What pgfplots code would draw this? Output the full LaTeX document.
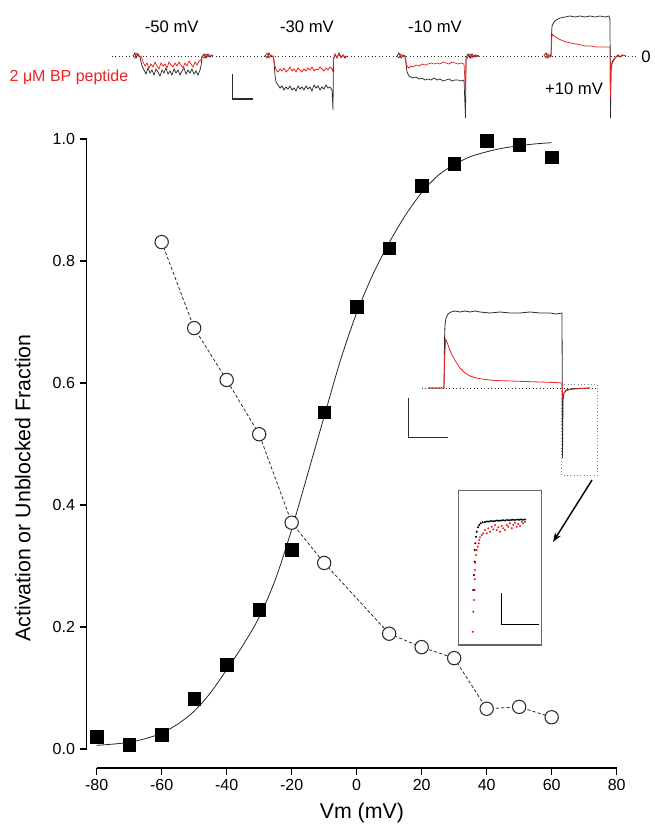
\documentclass[border=0pt]{standalone}
\usepackage{fontspec}
\setmainfont{Liberation Sans}
\usepackage{pgfplots}
\pgfplotsset{compat=1.18}
\usetikzlibrary{arrows.meta}
\definecolor{tr}{RGB}{235,35,35}
\definecolor{tk}{RGB}{45,45,45}
\begin{document}
\begin{tikzpicture}
\path[use as bounding box] (0,0) rectangle (490.5pt,618pt);
% ---------------- main axis ----------------
\begin{axis}[
  at={(72.5pt,56.25pt)}, anchor=south west,
  scale only axis, width=390pt, height=457.5pt,
  xmin=-80, xmax=80, ymin=0, ymax=1.0,
  axis x line*=bottom, axis y line*=left,
  axis x line shift=14.25pt, axis y line shift=7.5pt,
  axis line style={-, line width=0.9pt, black},
  xtick={-80,-60,...,80}, ytick={0,0.2,...,1.0},
  tick align=outside, major tick length=5.25pt,
  tick style={line width=0.9pt, black},
  /pgf/number format/assume math mode=true,
  ticklabel style={font=\fontsize{12}{14}\selectfont},
  yticklabel style={/pgf/number format/.cd, fixed, fixed zerofill, precision=1},
  xlabel={Vm (mV)}, ylabel={Activation or Unblocked Fraction},
  label style={font=\fontsize{16}{18}\selectfont},
  xlabel style={at={(axis description cs:0.51,-0.105)}, anchor=center},
  ylabel style={at={(axis description cs:-0.142,0.428)}, anchor=center, rotate=0},
  clip=false,
]
% Boltzmann fit
\addplot[black!85, line width=0.6pt, smooth] coordinates {
(-80,0.006) (-75,0.008) (-70,0.011) (-65,0.017) (-60,0.026) (-55,0.041)
(-50,0.062) (-45,0.092) (-40,0.130) (-35,0.170) (-30,0.216) (-25,0.278)
(-20,0.360) (-15,0.452) (-10,0.545) (-5,0.637) (0,0.715) (5,0.778)
(10,0.830) (15,0.875) (20,0.912) (25,0.940) (30,0.958) (35,0.971)
(40,0.979) (45,0.985) (50,0.989) (55,0.992) (60,0.994)};
% unblocked fraction (open circles, dashed)
\addplot[tk, line width=0.6pt, dash pattern=on 2.4pt off 1.6pt,
  mark=*, mark size=5pt, mark options={solid, fill=white, draw=tk, line width=0.8pt}]
coordinates {
(-60,0.831) (-50,0.690) (-40,0.605) (-30,0.516) (-20,0.371) (-10,0.305)
(10,0.189) (20,0.167) (30,0.149) (40,0.066) (50,0.069) (60,0.052)};
% activation (filled squares)
\addplot[only marks, mark=square*, mark size=4.75pt, mark options={fill=black, draw=black}]
coordinates {
(-80,0.020) (-70,0.007) (-60,0.023) (-50,0.082) (-40,0.138) (-30,0.228)
(-20,0.327) (-10,0.552) (0,0.725) (10,0.821) (20,0.923) (30,0.959)
(40,0.997) (50,0.990) (60,0.970)};
\end{axis}
% ---------------- overlay in pixel coordinates ----------------
\begin{axis}[
  at={(0pt,0pt)}, anchor=south west,
  scale only axis, width=490.5pt, height=618pt,
  xmin=0, xmax=654, ymin=0, ymax=824, y dir=reverse,
  hide axis, clip=false,
]
% top panel baseline
\addplot[tk, line width=0.6pt, dotted] coordinates {(111.7,56) (635.7,56)};
% -50 mV
\addplot[tk, line width=0.55pt] coordinates {
(133,56) (135,53) (136,58) (138,54) (140,57) (142,66) (144,70) (146,74) (148,68) (150,73)
(152,70) (154,75) (156,69) (158,72) (160,76) (162,70) (164,73) (166,68) (168,74) (170,71)
(172,75) (174,69) (176,73) (178,70) (180,75) (182,71) (184,68) (186,74) (188,70) (190,73)
(192,69) (194,74) (196,71) (198,75) (200,70) (201,66) (202,57) (204,54) (206,58) (208,54)
(210,57) (212,55) (213,56)};
\addplot[tr, line width=0.55pt] coordinates {
(133,55) (135,58) (137,53) (139,57) (141,56) (143,62) (145,66) (147,63) (149,68) (151,64)
(153,67) (155,62) (157,66) (159,69) (161,63) (163,66) (165,64) (167,68) (169,62) (171,65)
(173,67) (175,63) (177,66) (179,62) (181,65) (183,68) (185,63) (187,66) (189,61) (191,64)
(193,67) (195,62) (197,65) (199,61) (201,60) (202,56) (204,58) (206,54) (208,57) (210,55) (213,56)};
% -30 mV
\addplot[tk, line width=0.55pt] coordinates {
(265,55) (267,58) (269,53) (271,57) (273,56) (274,62) (275,75) (276,82) (278,85) (280,88)
(282,86) (284,90) (286,87) (288,89) (290,86) (292,90) (294,88) (296,91) (298,86) (300,89)
(302,87) (304,90) (306,86) (308,89) (310,87) (312,91) (314,85) (316,88) (318,86) (320,90)
(322,87) (324,89) (326,85) (328,88) (330,87) (332,90) (333,110) (333.5,60) (335,54) (337,58)
(339,53) (341,57) (343,55) (345,58) (347,56)};
\addplot[tr, line width=0.55pt] coordinates {
(265,56) (267,53) (269,58) (271,55) (273,57) (274,60) (275,66) (276,70) (278,72) (280,69)
(282,71) (284,68) (286,72) (288,70) (290,67) (292,71) (294,69) (296,72) (298,68) (300,70)
(302,72) (304,69) (306,71) (308,68) (310,70) (312,67) (314,71) (316,69) (318,70) (320,67)
(322,69) (324,71) (326,68) (328,70) (330,67) (332,69) (333,72) (333.5,58) (335,55) (337,57)
(339,54) (341,58) (343,55) (345,57) (347,56)};
% -10 mV
\addplot[tk, line width=0.55pt] coordinates {
(397,56) (399,53) (401,58) (403,55) (405,56) (406,64) (407,72) (409,76) (411,77) (413,78)
(416,77) (419,79) (422,78) (425,80) (428,79) (431,80) (434,78) (437,80) (440,79) (443,81)
(446,80) (449,79) (452,81) (455,80) (458,80) (461,81) (464,80) (465.5,118) (466,58) (468,54)
(470,58) (472,54) (474,57) (476,55) (479,56)};
\addplot[tr, line width=0.55pt] coordinates {
(397,56) (399,58) (401,54) (403,57) (405,56) (406,62) (407,66) (409,68) (411,66) (413,67)
(416,65) (419,66) (422,64) (425,65) (428,64) (431,63) (434,64) (437,63) (440,64) (443,62)
(446,63) (449,64) (452,62) (455,63) (458,64) (461,63) (464,64) (465.5,90) (466,60) (468,57)
(470,54) (472,58) (474,55) (476,57) (479,56)};
% +10 mV
\addplot[tk, line width=0.55pt] coordinates {
(544,56) (546,53) (548,58) (550,55) (551,56) (551.5,35) (552,26) (554,22) (556,20) (560,18)
(565,17) (570,16) (575,17) (580,16) (585,17) (590,16) (595,17) (600,16) (605,17) (609,16)
(610,20) (610.5,118) (611,70) (612,62) (614,59) (616,57) (618,55) (620,57) (622,55) (626,56)};
\addplot[tr, line width=0.55pt] coordinates {
(544,55) (546,58) (548,54) (550,57) (551,56) (552,34) (554,36) (557,38) (561,40) (566,42)
(571,43) (576,44) (581,45) (586,46) (591,46) (596,47) (601,47) (606,47) (610,47) (610.5,97)
(611,72) (612,64) (614,60) (616,57) (618,56) (620,57) (622,55) (626,56)};
% top scale bar
\addplot[tk, line width=1pt] coordinates {(232.7,74) (232.7,99) (252.7,99)};
\node[font=\fontsize{12.5}{14}\selectfont] at (axis cs:171.7,27) {-50 mV};
\node[font=\fontsize{12.5}{14}\selectfont] at (axis cs:307,27) {-30 mV};
\node[font=\fontsize{12.5}{14}\selectfont] at (axis cs:435,27) {-10 mV};
\node[font=\fontsize{12.5}{14}\selectfont] at (axis cs:574,89) {+10 mV};
\node[font=\fontsize{12.5}{14}\selectfont] at (axis cs:646,57) {0};
\node[font=\fontsize{12}{14}\selectfont, text=tr] at (axis cs:69,77) {2 μM BP peptide};
% right inset (+10 mV trace)
\addplot[tk, line width=0.6pt, dotted] coordinates {(421.7,388.3) (596.7,388.3)};
\addplot[tk, line width=0.6pt] coordinates {
(428,388) (444,388) (444.5,340) (445,325) (446,318) (448,314) (451,312) (455,311) (460,312)
(465,311) (470,312) (475,311) (480,312) (490,313) (500,312) (510,313) (520,313) (530,312)
(540,313) (550,313) (556,314) (562,313) (562.5,458) (563,400) (564,393) (566,390) (570,389)
(575,388.5) (590,388)};
\addplot[tr, line width=0.6pt] coordinates {
(428,388) (444,388) (444.5,360) (445.7,339) (447,342) (449,348) (452,355) (456,362) (460,368)
(465,373) (470,376) (476,378) (485,379.5) (495,380.5) (510,381) (525,381.5) (540,382)
(555,382.5) (562,383) (562.5,397) (564,393) (566,391) (570,389.5) (575,389) (590,388)};
\addplot[tk, line width=1pt] coordinates {(408.3,397.7) (408.3,437.7) (448.3,437.7)};
\addplot[gray, line width=0.5pt, dotted] coordinates {
(561,384.3) (597.3,384.3) (597.3,475) (561,475) (561,384.3)};
\addplot[black, line width=1.1pt, -{Stealth[length=7pt, width=5pt]}] coordinates {(592,480) (553,542)};
% zoomed tail inset
\addplot[black!60, line width=0.8pt] coordinates {
(458.3,490.7) (541.7,490.7) (541.7,645) (458.3,645) (458.3,490.7)};
\addplot[only marks, mark=*, mark size=0.55pt, black] coordinates {
(473.3,590) (474,575) (474.7,561.7) (474.7,550) (475.3,543.3) (476,536.7) (476.7,531.7)
(478,527.3) (479.3,525) (480.7,523.3) (482.7,522.3) (485,522) (487,521.5) (489,521.5)
(491,521) (493,521.3) (495,521) (497,520.5) (499,520.8) (501,520.5) (503,520.2) (505,520.5)
(507,520) (509,520.3) (511,520) (513,519.8) (515,520) (517,519.6) (519,519.8) (521,519.5)
(523,519.7) (525,519.5)};
\addplot[only marks, mark=*, mark size=0.55pt, tr] coordinates {
(472.7,631.7) (473.3,611.7) (474,600) (474.7,590) (474.7,579.3) (475,570) (475.3,562.7)
(476,555) (476.7,550) (477.7,546.7) (478.7,543.3) (479.3,540) (480,537.3) (481.7,535)
(483.3,533.3) (485,530) (486.7,533.3) (488.3,528.3) (490,531.7) (491.7,526.7) (493.3,529.3)
(495,525) (496.7,530) (498.3,527.3) (500,531.7) (501.7,526) (503.3,528.3) (505,530)
(506.7,525) (508.3,526.7) (510,523.3) (511.7,528.3) (513.3,525) (515,522.7) (516.7,526.7)
(518.3,524) (520,526) (521.7,521.7) (523.3,523.3) (525,521.7)};
\addplot[black, line width=1pt] coordinates {(501.7,593.3) (501.7,624.3) (539.3,624.3)};
\end{axis}
\end{tikzpicture}
\end{document}
